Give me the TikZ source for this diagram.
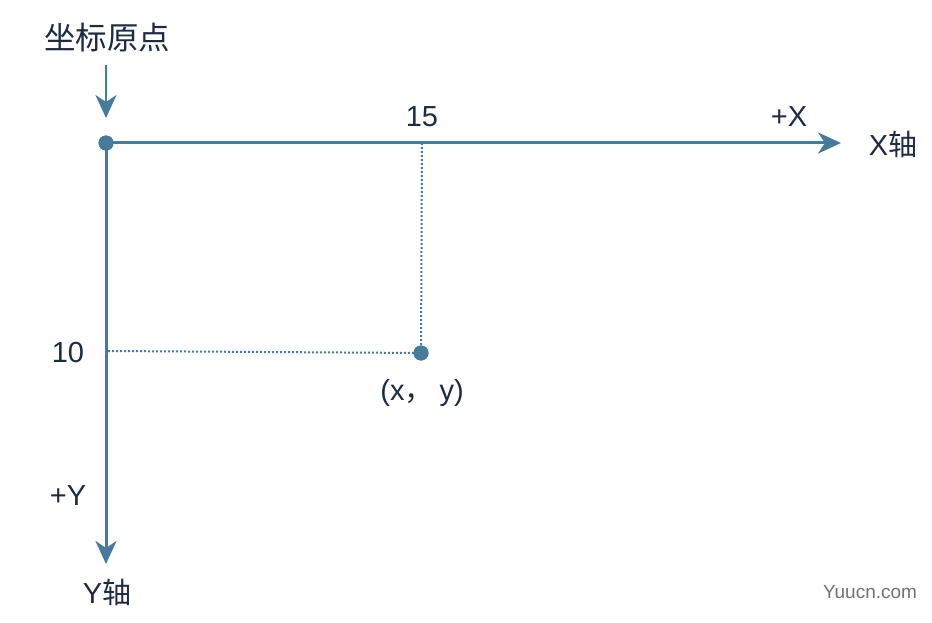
\documentclass[tikz,border=0pt]{standalone}
\usepackage{fontspec}
\setmainfont{Liberation Sans}
\newfontfamily\cjk{Noto Sans CJK SC}
\usetikzlibrary{arrows.meta}
\definecolor{axisblue}{HTML}{457B9D}
\definecolor{txtnavy}{HTML}{1E2B45}
\tikzset{
  axisline/.style={draw=axisblue, line width=3pt, -{Stealth[length=23pt,width=21pt,inset=7pt]}},
  guide/.style={draw=axisblue, line width=2pt, dotted},
  dotnode/.style={circle, fill=axisblue, inner sep=0pt, minimum size=15pt},
  lbl/.style={text=txtnavy, font=\fontsize{29}{33}\selectfont, inner sep=0pt},
  cjklbl/.style={text=txtnavy, font=\cjk\fontsize{31.5}{35}\selectfont, inner sep=0pt},
}
\begin{document}
\begin{tikzpicture}[x=1pt,y=-1pt]
\useasboundingbox (0,0) rectangle (932,623);
\fill[white] (0,0) rectangle (932,623);
% nodes
\node[dotnode] (O) at (106,143) {};
\node[dotnode] (P) at (421,353) {};
\node[cjklbl] (orig) at (107,38) {坐标原点};
\node[lbl] (n15) at (422,117) {15};
\node[lbl] (n10) at (68,353) {10};
\node[lbl] (px) at (789,117) {+X};
\node[lbl] (xl) at (893,144) {X{\cjk 轴}};
\node[lbl] (py) at (68,496) {+Y};
\node[lbl] (yl) at (107,592) {Y{\cjk 轴}};
\node[lbl] (pt) at (422,393) {(x{\cjk ，}\hspace{6pt}y)};
\node[text=gray!90!black, font=\fontsize{19}{22}\selectfont, inner sep=0pt] (wm) at (870,592) {Yuucn.com};
\coordinate (xend) at (841,143);
\coordinate (yend) at (106,564);
\coordinate (astart) at (106,65);
\coordinate (aend) at (106,118);
\coordinate (tick15) at (422,143);
\coordinate (tick10) at (108,351);
% connectors
\draw[guide] (tick15) -- (P.center);
\draw[guide] (tick10) -- (P.center);
\draw[axisline] (O.center) -- (xend);
\draw[axisline] (O.center) -- (yend);
\draw[axisline, line width=2.5pt] (astart) -- (aend);
\node[dotnode] at (O) {};
\node[dotnode] at (P) {};
\end{tikzpicture}
\end{document}
